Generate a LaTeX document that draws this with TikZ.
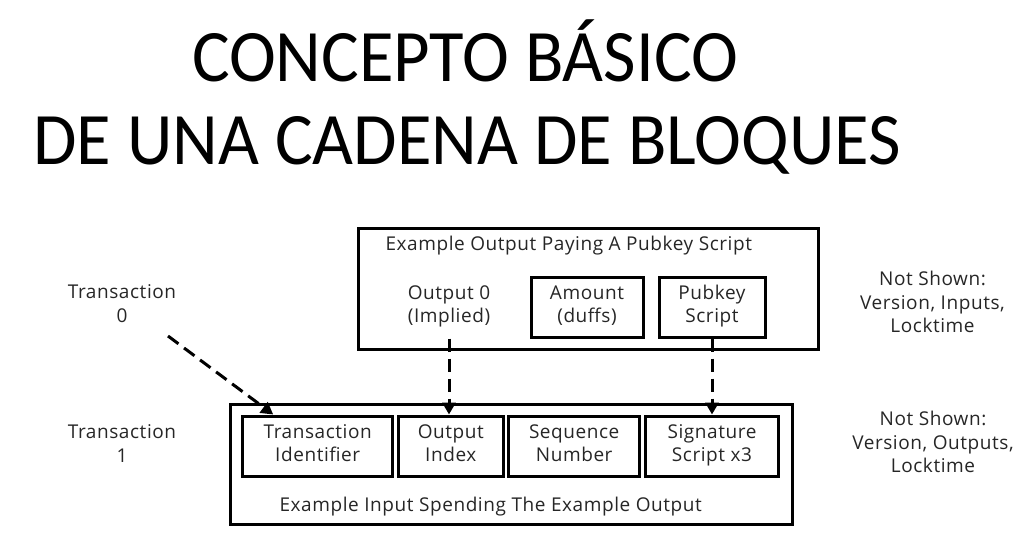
\documentclass[tikz,border=0pt]{standalone}
\usepackage{fontspec}
\setmainfont{Open Sans}[LetterSpace=3]
\newfontfamily\titlefont{Carlito}
\usetikzlibrary{arrows.meta}
\newcommand\lblstrut{\rule[-6pt]{0pt}{23.5pt}}

\begin{document}
\begin{tikzpicture}[x=1pt,y=-1pt,
  lbl/.style={align=center,text=black!85,font=\fontsize{19}{23.5}\selectfont,
    execute at begin node=\lblstrut,execute at end node=\lblstrut},
  field/.style={lbl,draw,line width=3pt,inner sep=0pt},
  link/.style={line width=3pt,dash pattern=on 13pt off 7pt,-{Triangle[length=12pt,width=13pt]}}]
\useasboundingbox (0,0) rectangle (1024,533);
\node[anchor=base,font=\titlefont\fontsize{74}{74}\selectfont] (title1) at (465,81) {\scalebox{0.955}[1]{CONCEPTO BÁSICO}};
\node[anchor=base,font=\titlefont\fontsize{74}{74}\selectfont] (title2) at (467,164) {\scalebox{0.955}[1]{DE UNA CADENA DE BLOQUES}};

\node[field,minimum width=460pt,minimum height=121pt] (outbox) at (588,288.5) {};
\node[lbl,anchor=base west] (outtitle) at (382,250) {Example Output Paying A Pubkey Script};
\node[lbl] (outzero) at (449,307) {Output 0\\(Implied)};
\node[field,minimum width=112pt,minimum height=60pt] (amount) at (587,307) {Amount\\(duffs)};
\node[field,minimum width=106pt,minimum height=60pt] (pubkey) at (712,307) {Pubkey\\Script};

\node[field,minimum width=562pt,minimum height=120pt] (inbox) at (511,464) {};
\node[field,minimum width=150pt,minimum height=60pt] (txid) at (317.7,446) {Transaction\\Identifier};
\node[field,minimum width=105pt,minimum height=60pt] (outidx) at (450.8,446) {Output\\Index};
\node[field,minimum width=131.5pt,minimum height=60pt] (seqnum) at (574.2,446) {Sequence\\Number};
\node[field,minimum width=132.6pt,minimum height=60pt] (sigscr) at (712,446) {Signature\\Script x3};
\node[lbl,anchor=base west] (intitle) at (276,511.7) {Example Input Spending The Example Output};

\node[lbl] (tx0) at (122,306.7) {Transaction\\0};
\node[lbl] (tx1) at (122,446.7) {Transaction\\1};
\node[lbl] (notout) at (932.5,304.8) {Not Shown:\\Version, Inputs,\\Locktime};
\node[lbl] (notin) at (933,445) {Not Shown:\\Version, Outputs,\\Locktime};

\coordinate (tx0tail) at (168,336);
\draw[link] (tx0tail) -- ([xshift=32pt]txid.north west);
\draw[link] (outzero |- amount.south) -- (outzero |- outidx.north);
\draw[link] (pubkey.south) -- (sigscr.north);
\end{tikzpicture}
\end{document}
